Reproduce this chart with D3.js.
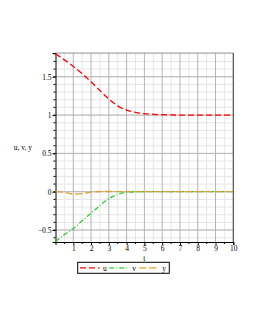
<!DOCTYPE html>
<html>
<head>
<meta charset="utf-8">
<script src="https://cdn.jsdelivr.net/npm/d3@7"></script>
<style>
body{margin:0;background:#fff;}
text{font-family:"Liberation Serif","DejaVu Serif",serif;fill:#000;}
</style>
</head>
<body>
<div class="plot"></div>
<script>
// values
var tVals = [0,0.5,1,1.5,2,2.5,3,3.5,4,4.5,5,5.5,6,6.5,7,8,9,10];
var uVals = [1.80,1.72,1.635,1.54,1.435,1.32,1.21,1.12,1.065,1.035,1.018,1.01,1.005,1.002,1.0,1.0,1.0,1.0];
var vVals = [-0.65,-0.56,-0.48,-0.38,-0.28,-0.18,-0.09,-0.035,-0.008,0.0,0.002,0.001,0,0,0,0,0,0];
var yVals = [0,-0.01,-0.03,-0.025,-0.005,0.002,0.003,0.002,0.001,0,0,0,0,0,0,0,0,0];
var xTicks = [1,2,3,4,5,6,7,8,9,10];
var yTicks = [-0.5,0,0.5,1,1.5];
var yTickLabels = ['\u22120.5','0','0.5','1','1.5'];
var seriesNames = ['u','v','y'];
var seriesColors = ['#ff0000','#33cc33','#dda030'];
var seriesDash = ['6,3','5,2,1,2','7,3'];

var W = 255, H = 330;
var m = {t:53,r:21.7,b:88,l:55.5},
    w = W - m.l - m.r,
    h = H - m.t - m.b;

var svg = d3.select('.plot').append('svg')
    .attr('width',W).attr('height',H);

var g = svg.append('g').attr('transform','translate('+m.l+','+m.t+')');

var x = d3.scaleLinear().domain([0,10]).range([0,w]);
var y = d3.scaleLinear().domain([-0.656,1.81]).range([h,0]);

// grid, minor then major
g.selectAll('.gxm').data(d3.range(0.5,10,1)).enter().append('line')
    .attr('x1',function(d){return x(d)}).attr('x2',function(d){return x(d)})
    .attr('y1',0).attr('y2',h).attr('stroke','#e6e6e6').attr('stroke-width',1);
g.selectAll('.gym').data(d3.range(-6,19).map(function(d){return d/10})).enter().append('line')
    .attr('x1',0).attr('x2',w)
    .attr('y1',function(d){return y(d)}).attr('y2',function(d){return y(d)})
    .attr('stroke','#e6e6e6').attr('stroke-width',1);
g.selectAll('.gx').data(xTicks).enter().append('line')
    .attr('x1',function(d){return x(d)}).attr('x2',function(d){return x(d)})
    .attr('y1',0).attr('y2',h).attr('stroke','#b4b4b4').attr('stroke-width',1);
g.selectAll('.gy').data(yTicks).enter().append('line')
    .attr('x1',0).attr('x2',w)
    .attr('y1',function(d){return y(d)}).attr('y2',function(d){return y(d)})
    .attr('stroke','#b4b4b4').attr('stroke-width',1);

// frame
g.append('line').attr('x1',0).attr('x2',w).attr('y1',0).attr('y2',0).attr('stroke','#999');
g.append('line').attr('x1',w).attr('x2',w).attr('y1',0).attr('y2',h).attr('stroke','#444');

// axes
var xAxis = d3.axisBottom(x).tickValues(xTicks).tickSize(3).tickPadding(1)
    .tickFormat(d3.format('d'));
var gx = g.append('g').attr('transform','translate(0,'+h+')').call(xAxis);
gx.append('g').selectAll('line').data(d3.range(0.5,10,1)).enter().append('line')
    .attr('x1',function(d){return x(d)}).attr('x2',function(d){return x(d)})
    .attr('y1',0).attr('y2',2).attr('stroke','#000');

var yAxis = d3.axisLeft(y).tickValues(yTicks).tickSize(3).tickPadding(1)
    .tickFormat(function(d,i){return yTickLabels[i]});
var gy = g.append('g').call(yAxis);
gy.append('g').selectAll('line').data(d3.range(-6,19).map(function(d){return d/10})).enter().append('line')
    .attr('x1',-2).attr('x2',0)
    .attr('y1',function(d){return y(d)}).attr('y2',function(d){return y(d)})
    .attr('stroke','#000');

[gx,gy].forEach(function(a){
    a.select('.domain').attr('stroke','#000');
    a.selectAll('text').style('font-size','7.5px').style('font-family','"Liberation Serif",serif');
});

// curves
var line = d3.line().curve(d3.curveMonotoneX)
    .x(function(d){return x(d[0])}).y(function(d){return y(d[1])});
[uVals,vVals,yVals].forEach(function(vals,k){
    g.append('path')
        .datum(tVals.map(function(t,i){return [t,vals[i]]}))
        .attr('d',line)
        .attr('fill','none')
        .attr('stroke',seriesColors[k])
        .attr('stroke-width',1.3)
        .attr('stroke-dasharray',seriesDash[k]);
});

// axis labels
svg.append('text').attr('x',m.l+w/2).attr('y',261).attr('text-anchor','middle')
    .style('font-size','7.5px').text('t');
svg.append('text').attr('x',23).attr('y',150).attr('text-anchor','middle')
    .style('font-size','7.5px').text('u, v, y');

// legend
var lg = svg.append('g').attr('transform','translate(77.7,262.3)');
lg.append('rect').attr('width',91.6).attr('height',11)
    .attr('fill','#fff').attr('stroke','#000').attr('stroke-width',1);
var lx = [2.3,31.6,61.6];
seriesNames.forEach(function(n,k){
    lg.append('line').attr('x1',lx[k]).attr('x2',lx[k]+19.5)
        .attr('y1',5.5).attr('y2',5.5)
        .attr('stroke',seriesColors[k]).attr('stroke-width',1.3)
        .attr('stroke-dasharray',seriesDash[k]);
    lg.append('text').attr('x',lx[k]+23).attr('y',8.3)
        .style('font-size','7.5px').text(n);
});
</script>
</body>
</html>
